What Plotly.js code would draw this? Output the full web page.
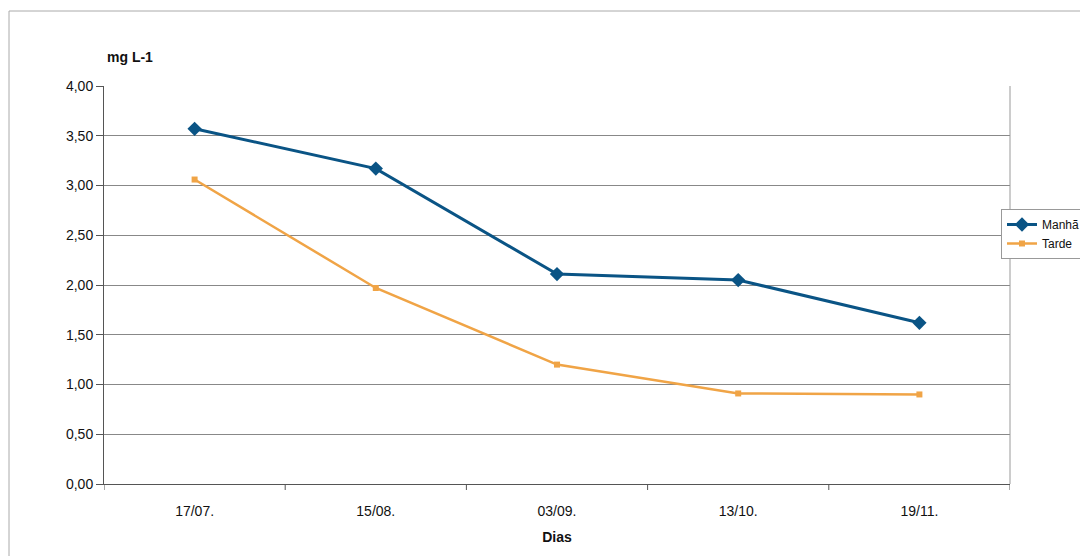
<!DOCTYPE html>
<html>
<head>
<meta charset="utf-8">
<script src="https://cdn.plot.ly/plotly-3.0.1.min.js"></script>
<style>html,body{margin:0;padding:0;background:#fff;overflow:hidden;}#chart{width:1080px;height:556px;}</style>
</head>
<body>
<div id="chart"></div>
<script>
const categories = ["17/07.", "15/08.", "03/09.", "13/10.", "19/11."];
const manha = [3.57, 3.17, 2.11, 2.05, 1.62];
const tarde = [3.06, 1.97, 1.20, 0.91, 0.90];
const yTicks = [0, 0.5, 1, 1.5, 2, 2.5, 3, 3.5, 4];
const yTickText = ["0,00", "0,50", "1,00", "1,50", "2,00", "2,50", "3,00", "3,50", "4,00"];

const W = 1080, H = 556;
const L = 104, R = 70, T = 86, B = 72;
const pw = W - L - R, ph = H - T - B;
const px = v => (v - L) / pw;
const py = v => (H - B - v) / ph;

const traces = [
  {x: categories, y: manha, name: "Manhã", type: "scatter", mode: "lines+markers",
   line: {color: "#0a5485", width: 3}, marker: {symbol: "diamond", size: 11, color: "#0a5485"}},
  {x: categories, y: tarde, name: "Tarde", type: "scatter", mode: "lines+markers",
   line: {color: "#f0a446", width: 2.5}, marker: {symbol: "square", size: 6, color: "#f0a446"}}
];

const layout = {
  width: W, height: H,
  margin: {l: L, r: R, t: T, b: B, autoexpand: false},
  paper_bgcolor: "#fff", plot_bgcolor: "#fff",
  font: {family: "Liberation Sans, Arial, sans-serif", size: 13, color: "#111"},
  showlegend: true,
  legend: {x: px(1001), y: py(209), xanchor: "left", yanchor: "top",
           bgcolor: "#fff", bordercolor: "#999", borderwidth: 1,
           font: {size: 12, color: "#111"}, tracegroupgap: 0, itemwidth: 30},
  xaxis: {type: "category", range: [-0.5, 4.5], showgrid: false, zeroline: false,
          showline: true, linecolor: "#555", linewidth: 1,
          ticks: "", ticklabelstandoff: 14, tickfont: {size: 14, color: "#111"},
          title: {text: "<b>Dias</b>", font: {size: 14, color: "#111"}, standoff: 14}},
  yaxis: {range: [0, 4], tickvals: yTicks, ticktext: yTickText, showgrid: true,
          gridcolor: "#888", gridwidth: 1, zeroline: false,
          showline: true, linecolor: "#555", linewidth: 1,
          ticks: "outside", ticklen: 7, tickcolor: "#555",
          tickfont: {size: 14, color: "#111"}},
  annotations: [
    {text: "<b>mg L-1</b>", xref: "paper", yref: "paper", x: px(105), y: py(57),
     xanchor: "left", yanchor: "middle", showarrow: false, font: {size: 14, color: "#111"}}
  ],
  shapes: [
    {type: "line", xref: "paper", yref: "paper", x0: px(9), x1: px(1080), y0: py(11), y1: py(11),
     line: {color: "#aaa", width: 1}},
    {type: "line", xref: "paper", yref: "paper", x0: px(9), x1: px(9), y0: py(11), y1: py(556),
     line: {color: "#aaa", width: 1}},
    {type: "line", xref: "paper", yref: "paper", x0: 1, x1: 1, y0: 0, y1: 1,
     line: {color: "#999", width: 1}}
  ]
};
// category separator ticks on x axis
for (let i = 0; i <= categories.length; i++) {
  layout.shapes.push({type: "line", xref: "x", yref: "paper", x0: i - 0.5, x1: i - 0.5,
    y0: 0, y1: -6 / ph, line: {color: "#555", width: 1}});
}
Plotly.newPlot("chart", traces, layout, {displayModeBar: false, staticPlot: true});
</script>
</body>
</html>
